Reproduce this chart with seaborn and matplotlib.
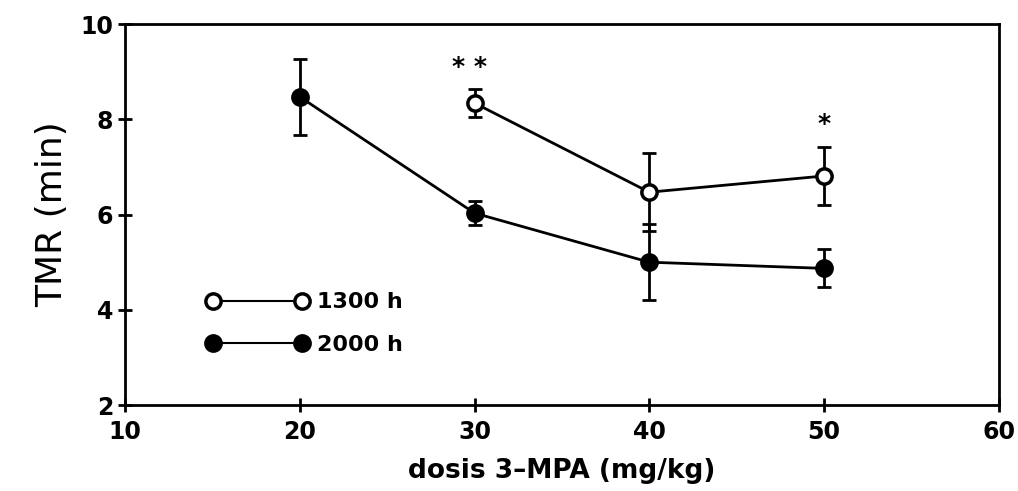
import pandas as pd
import matplotlib.pyplot as plt
import seaborn as sns

# dose (mg/kg) and TMR (min) per time of day
dose_1300 = [30, 40, 50]
tmr_1300 = [8.34, 6.47, 6.81]
err_1300 = [0.3, 0.82, 0.6]

dose_2000 = [20, 30, 40, 50]
tmr_2000 = [8.47, 6.03, 5.0, 4.87]
err_2000 = [0.8, 0.25, 0.8, 0.4]

# significance marks
star_x = [29.7, 50]
star_y = [9.1, 7.9]
star_txt = ["* *", "*"]


def main():
    sns.set_theme(style="ticks")
    plt.rcParams['font.family'] = ['DejaVu Sans']
    plt.rcParams.update({"text.color": "black", "axes.labelcolor": "black",
                         "xtick.color": "black", "ytick.color": "black",
                         "axes.edgecolor": "black"})

    df = pd.concat([
        pd.DataFrame({"dose": dose_1300, "tmr": tmr_1300, "grupo": "1300 h"}),
        pd.DataFrame({"dose": dose_2000, "tmr": tmr_2000, "grupo": "2000 h"}),
    ])

    fig = plt.figure(figsize=(10.18, 4.91), dpi=100)
    ax = fig.add_axes([0.123, 0.175, 0.858, 0.776])

    ax.errorbar(dose_1300, tmr_1300, yerr=err_1300, fmt="none", ecolor="black",
                elinewidth=2, capsize=5, capthick=2, zorder=2)
    ax.errorbar(dose_2000, tmr_2000, yerr=err_2000, fmt="none", ecolor="black",
                elinewidth=2, capsize=5, capthick=2, zorder=2)

    sns.lineplot(data=df, x="dose", y="tmr", style="grupo", ax=ax,
                 color="black", linewidth=2, markers={"1300 h": "o", "2000 h": "o"},
                 dashes=False, markersize=11, markeredgewidth=2.5,
                 legend=False, zorder=3)
    # fill style per group
    lines = ax.get_lines()
    lines[-2].set_markerfacecolor("white")
    lines[-2].set_markeredgecolor("black")
    lines[-1].set_markerfacecolor("black")
    lines[-1].set_markeredgecolor("black")

    for x, y, t in zip(star_x, star_y, star_txt):
        ax.text(x, y, t, ha="center", va="center", fontsize=18, fontweight="bold")

    # legend drawn as in the original: marker - line - marker label
    h1, = ax.plot([], [], "-o", color="black", mfc="white", mec="black", ms=11, mew=2.5, lw=1.5)
    h2, = ax.plot([], [], "-o", color="black", mfc="black", mec="black", ms=11, mew=2.5, lw=1.5)
    ax.legend([h1, h2], ["1300 h", "2000 h"], loc="lower left",
              bbox_to_anchor=(0.07, 0.08), frameon=False, numpoints=2,
              handlelength=4.6, handletextpad=0.4, labelspacing=1.0,
              prop={"size": 16, "weight": "bold"})

    ax.set_xlim(10, 60)
    ax.set_ylim(2, 10)
    ax.set_xticks([10, 20, 30, 40, 50, 60])
    ax.set_yticks([2, 4, 6, 8, 10])
    ax.tick_params(direction="inout", length=10, width=2, labelsize=17)
    ax.tick_params(axis="x", pad=6)
    for lab in ax.get_xticklabels() + ax.get_yticklabels():
        lab.set_fontweight("bold")
    for s in ax.spines.values():
        s.set_linewidth(2)
        s.set_visible(True)

    ax.set_xlabel("dosis 3\u2013MPA (mg/kg)", fontsize=19, fontweight="bold", labelpad=10)
    ax.set_ylabel("TMR (min)", fontsize=26, labelpad=8)

    fig.savefig("out.png", dpi=100)


if __name__ == "__main__":
    main()
